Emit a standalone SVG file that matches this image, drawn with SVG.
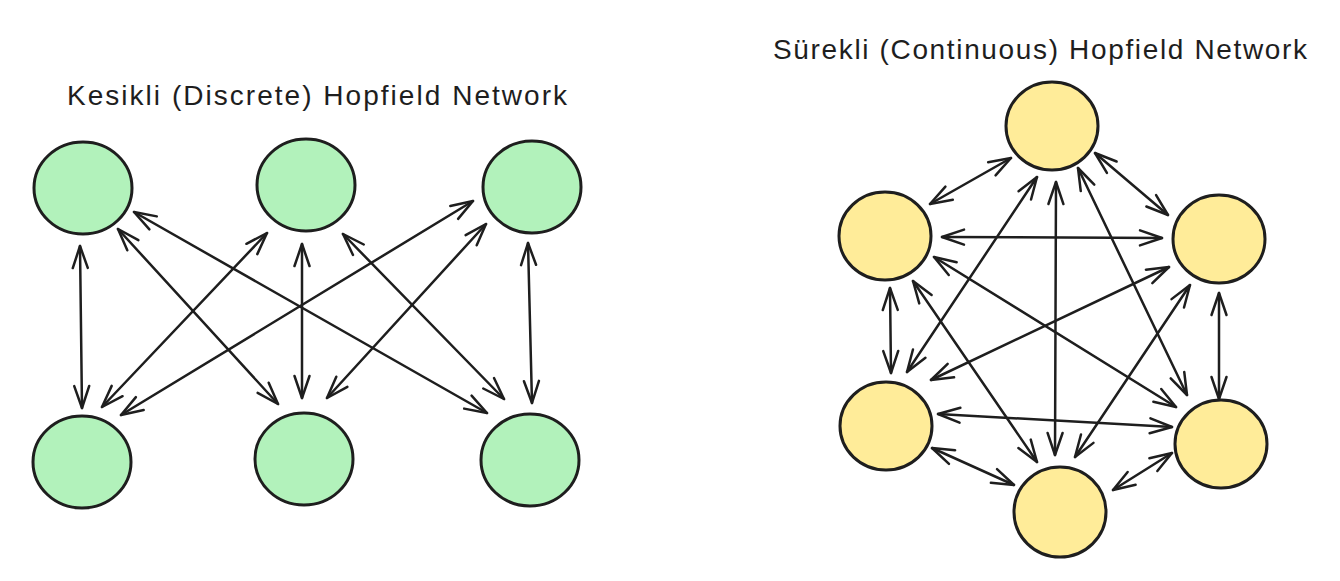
<svg xmlns="http://www.w3.org/2000/svg" width="1340" height="581" viewBox="0 0 1340 581">
<style>
.title{font-family:"Liberation Sans",Arial,sans-serif;font-size:28px;fill:#1e1e1e}
.green{fill:#b2f2bb;stroke:#1e1e1e;stroke-width:3}
.yellow{fill:#ffec99;stroke:#1e1e1e;stroke-width:3}
.conn line{stroke:#1e1e1e;stroke-width:2.5;stroke-linecap:round;fill:none;marker-start:url(#ah);marker-end:url(#ah)}
</style>
<defs>
<marker id="ah" markerUnits="userSpaceOnUse" markerWidth="30" markerHeight="20" refX="23" refY="8" orient="auto-start-reverse" overflow="visible">
<path d="M1,0.5 L23,8 L1,15.5" fill="none" stroke="#1e1e1e" stroke-width="2.5" stroke-linecap="round" stroke-linejoin="round"/>
</marker>
</defs>
<rect width="1340" height="581" fill="#ffffff"/>
<text class="title" x="67" y="105" textLength="500" lengthAdjust="spacing">Kesikli (Discrete) Hopfield Network</text>
<text class="title" x="773" y="59" textLength="534" lengthAdjust="spacing">Sürekli (Continuous) Hopfield Network</text>
<g id="connectors" class="conn">
<line x1="80" y1="246" x2="82" y2="408"/>
<line x1="118" y1="229" x2="278" y2="404"/>
<line x1="134" y1="212" x2="487" y2="413"/>
<line x1="267" y1="233" x2="102" y2="407"/>
<line x1="302" y1="244" x2="302" y2="398"/>
<line x1="343" y1="234" x2="504" y2="399"/>
<line x1="473" y1="201" x2="121" y2="415"/>
<line x1="486" y1="224" x2="327" y2="398"/>
<line x1="528" y1="243" x2="532" y2="403"/>
<line x1="1011" y1="158" x2="930" y2="204"/>
<line x1="1095" y1="153" x2="1168" y2="215"/>
<line x1="1037" y1="177" x2="907" y2="372"/>
<line x1="1056" y1="182" x2="1055" y2="455"/>
<line x1="1078" y1="168" x2="1187" y2="395"/>
<line x1="942" y1="237" x2="1162" y2="238"/>
<line x1="890" y1="288" x2="891" y2="373"/>
<line x1="913" y1="281" x2="1037" y2="462"/>
<line x1="934" y1="257" x2="1176" y2="407"/>
<line x1="1169" y1="267" x2="931" y2="380"/>
<line x1="1190" y1="285" x2="1075" y2="457"/>
<line x1="1219" y1="293" x2="1219" y2="399"/>
<line x1="938" y1="414" x2="1172" y2="427"/>
<line x1="932" y1="448" x2="1014" y2="485"/>
<line x1="1172" y1="453" x2="1113" y2="490"/>
</g>
<g id="d1"><ellipse class="green" cx="83" cy="188" rx="49" ry="46"/></g>
<g id="d2"><ellipse class="green" cx="306" cy="185" rx="49" ry="46"/></g>
<g id="d3"><ellipse class="green" cx="532" cy="187" rx="49" ry="46"/></g>
<g id="d4"><ellipse class="green" cx="82" cy="462" rx="49" ry="46"/></g>
<g id="d5"><ellipse class="green" cx="304" cy="459" rx="49" ry="46"/></g>
<g id="d6"><ellipse class="green" cx="530" cy="460" rx="49" ry="46"/></g>
<g id="c1"><ellipse class="yellow" cx="1052" cy="126" rx="46" ry="44"/></g>
<g id="c2"><ellipse class="yellow" cx="885" cy="236" rx="46" ry="44"/></g>
<g id="c3"><ellipse class="yellow" cx="1219" cy="239" rx="46" ry="44"/></g>
<g id="c4"><ellipse class="yellow" cx="886" cy="426" rx="46" ry="44"/></g>
<g id="c5"><ellipse class="yellow" cx="1221" cy="444" rx="46" ry="44"/></g>
<g id="c6"><ellipse class="yellow" cx="1060" cy="512" rx="46" ry="45"/></g>
</svg>
